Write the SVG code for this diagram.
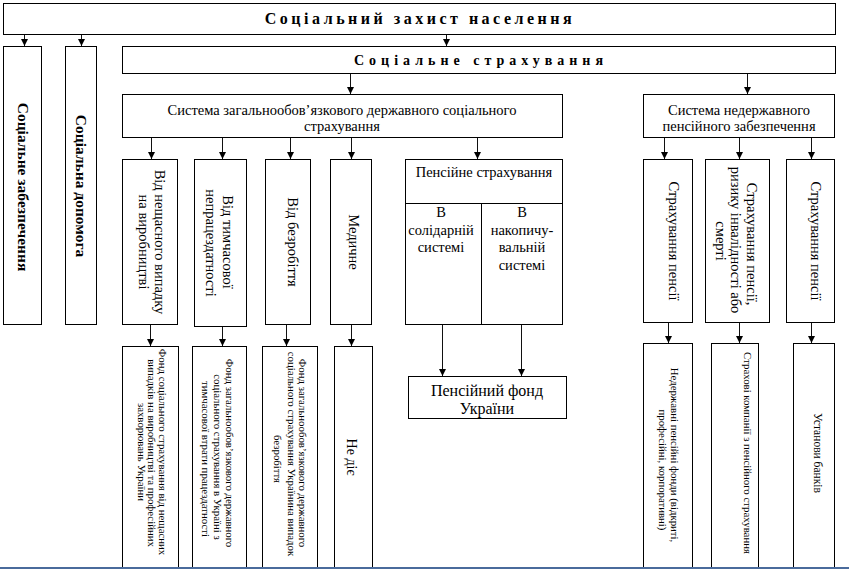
<svg xmlns="http://www.w3.org/2000/svg" width="849" height="569" viewBox="0 0 849 569" font-family="'Liberation Serif', 'Times New Roman', serif">
<style>
.box{fill:#fff;stroke:#000;stroke-width:1}
.div{stroke:#000;stroke-width:1;fill:none}
text{font-family:'Liberation Serif','Times New Roman',serif;fill:#000}
.b{font-weight:bold}
.m{text-anchor:middle}
.f15{font-size:14.5px}
.f11{font-size:10.8px}
.con line{stroke:#111;stroke-width:1;marker-end:url(#arr)}
</style>
<defs>
<marker id="arr" markerWidth="8" markerHeight="8" refX="7" refY="4" orient="auto" markerUnits="userSpaceOnUse">
<path d="M0,0.5 L7,4 L0,7.5 Z" fill="#000"/>
</marker>
</defs>
<rect width="849" height="569" fill="#fff"/>

<g id="n_top">
<rect class="box" x="3.5" y="3.5" width="832" height="31"/>
<text class="b m" x="420" y="24" font-size="16" letter-spacing="3.5">Соціальний захист населення</text>
</g>

<g id="n_soc_zab">
<rect class="box" x="3.5" y="46.5" width="38" height="278"/>
<text class="b m" font-size="15.5" transform="translate(18,187) rotate(90)">Соціальне забезпечення</text>
</g>

<g id="n_soc_dop">
<rect class="box" x="65.5" y="46.5" width="31" height="278"/>
<text class="b m" font-size="15.5" transform="translate(76,186) rotate(90)">Соціальна допомога</text>
</g>

<g id="n_soc_strah">
<rect class="box" x="122.5" y="46.5" width="713" height="27"/>
<text class="b m" x="481" y="65" font-size="14" letter-spacing="5">Соціальне страхування</text>
</g>

<g id="n_sys_zag">
<rect class="box" x="122.5" y="94.5" width="440" height="43"/>
<text class="m f15" x="342" y="115">Система загальнообов’язкового державного соціального</text>
<text class="m f15" x="342" y="131">страхування</text>
</g>

<g id="n_sys_nedz">
<rect class="box" x="643.5" y="94.5" width="191" height="43"/>
<text class="m f15" x="739" y="115">Система недержавного</text>
<text class="m f15" x="739" y="131">пенсійного забезпечення</text>
</g>

<g id="n_vid_neshch">
<rect class="box" x="122.5" y="159.5" width="55" height="165"/>
<text class="m f15" transform="translate(155,242) rotate(90)">Від нещасного випадку</text>
<text class="m f15" transform="translate(139,242) rotate(90)">на виробництві</text>
</g>

<g id="n_vid_tym">
<rect class="box" x="194.5" y="159.5" width="52" height="167"/>
<text class="m f15" transform="translate(223,242) rotate(90)">Від тимчасової</text>
<text class="m f15" transform="translate(206,243) rotate(90)">непрацездатності</text>
</g>

<g id="n_vid_bezr">
<rect class="box" x="265.5" y="159.5" width="45" height="165"/>
<text class="m f15" transform="translate(288,242) rotate(90)">Від безробіття</text>
</g>

<g id="n_med">
<rect class="box" x="330.5" y="159.5" width="41" height="165"/>
<text class="m f15" transform="translate(349,242) rotate(90)">Медичне</text>
</g>

<g id="n_pension">
<rect class="box" x="405.5" y="159.5" width="157" height="165"/>
<line class="div" x1="405.5" y1="203.5" x2="562.5" y2="203.5"/>
<line class="div" x1="481.5" y1="203.5" x2="481.5" y2="324.5"/>
<text class="m f15" x="484" y="177">Пенсійне страхування</text>
<text class="m f15" x="441" y="217">В</text>
<text class="m f15" x="441" y="234.5">солідарній</text>
<text class="m f15" x="441" y="252">системі</text>
<text class="m f15" x="522" y="217">В</text>
<text class="m f15" x="522" y="234.5">накопичу-</text>
<text class="m f15" x="522" y="252">вальній</text>
<text class="m f15" x="522" y="269.5">системі</text>
</g>

<g id="n_str1">
<rect class="box" x="643.5" y="159.5" width="49" height="163"/>
<text class="m f15" transform="translate(669,241) rotate(90)">Страхування пенсії</text>
</g>

<g id="n_str2">
<rect class="box" x="705.5" y="159.5" width="64" height="163"/>
<text class="m f15" transform="translate(747,244) rotate(90)">Страхування пенсії,</text>
<text class="m f15" transform="translate(731,240) rotate(90)">ризику інвалідності або</text>
<text class="m f15" transform="translate(716,241) rotate(90)">смерті</text>
</g>

<g id="n_str3">
<rect class="box" x="786.5" y="159.5" width="48" height="163"/>
<text class="m f15" transform="translate(811,241) rotate(90)">Страхування пенсії</text>
</g>

<g id="n_fund1">
<rect class="box" x="122.5" y="346.5" width="56" height="221"/>
<text class="m f11" transform="translate(159,452) rotate(90)">Фонд соціального страхування від нещасних</text>
<text class="m f11" transform="translate(148,453) rotate(90)">випадків на виробництві та професійних</text>
<text class="m f11" transform="translate(137.5,452) rotate(90)">захворювань України</text>
</g>

<g id="n_fund2">
<rect class="box" x="192.5" y="346.5" width="54" height="221"/>
<text class="m f11" transform="translate(226,453) rotate(90)">Фонд загальнообов’язкового державного</text>
<text class="m f11" transform="translate(214,457) rotate(90)">соціального страхування  в Україні з</text>
<text class="m f11" transform="translate(201.5,459) rotate(90)">тимчасової втрати працездатності</text>
</g>

<g id="n_fund3">
<rect class="box" x="262.5" y="346.5" width="55" height="221"/>
<text class="m f11" transform="translate(299,453) rotate(90)">Фонд загальнообов’язкового державного</text>
<text class="m f11" transform="translate(287.5,454) rotate(90)">соціального страхування Українина випадок</text>
<text class="m f11" transform="translate(274,459) rotate(90)">безробіття</text>
</g>

<g id="n_nedie">
<rect class="box" x="334.5" y="346.5" width="38" height="221"/>
<text class="m" font-size="14" transform="translate(347,457) rotate(90)">Не діє</text>
</g>

<g id="n_pfu">
<rect class="box" x="408.5" y="376.5" width="158" height="42"/>
<text class="m" font-size="16" x="487" y="396">Пенсійний фонд</text>
<text class="m" font-size="16" x="487" y="414">України</text>
</g>

<g id="n_rf1">
<rect class="box" x="643.5" y="343.5" width="49" height="224"/>
<text class="m f11" transform="translate(671,455) rotate(90)">Недержавні пенсійні фонди (відкриті,</text>
<text class="m f11" transform="translate(659,470) rotate(90)">професійні, корпоративні)</text>
</g>

<g id="n_rf2">
<rect class="box" x="711.5" y="343.5" width="47" height="224"/>
<text class="m f11" transform="translate(744,453) rotate(90)">Страхові компанії з пенсійного страхування</text>
</g>

<g id="n_rf3">
<rect class="box" x="793.5" y="343.5" width="41" height="224"/>
<text class="m" font-size="11.5" transform="translate(814,453) rotate(90)">Установи банків</text>
</g>

<g id="connectors" class="con">
<line x1="24.5" y1="35" x2="24.5" y2="46"/>
<line x1="81.5" y1="35" x2="81.5" y2="46"/>
<line x1="446.5" y1="35" x2="446.5" y2="46"/>
<line x1="350.5" y1="74" x2="350.5" y2="94"/>
<line x1="747.5" y1="74" x2="747.5" y2="94"/>
<line x1="151.5" y1="138" x2="151.5" y2="159"/>
<line x1="222.5" y1="138" x2="222.5" y2="159"/>
<line x1="290.5" y1="138" x2="290.5" y2="159"/>
<line x1="351.5" y1="138" x2="351.5" y2="159"/>
<line x1="477.5" y1="138" x2="477.5" y2="159"/>
<line x1="664.5" y1="138" x2="664.5" y2="159"/>
<line x1="739.5" y1="138" x2="739.5" y2="159"/>
<line x1="811.5" y1="138" x2="811.5" y2="159"/>
<line x1="150.5" y1="325" x2="150.5" y2="346"/>
<line x1="222.5" y1="327" x2="222.5" y2="346"/>
<line x1="286.5" y1="325" x2="286.5" y2="346"/>
<line x1="351.5" y1="325" x2="351.5" y2="346"/>
<line x1="442.5" y1="325" x2="442.5" y2="376"/>
<line x1="521.5" y1="325" x2="521.5" y2="376"/>
<line x1="668.5" y1="323" x2="668.5" y2="343"/>
<line x1="739.5" y1="323" x2="739.5" y2="343"/>
<line x1="811.5" y1="323" x2="811.5" y2="343"/>
</g>

<line x1="0" y1="568" x2="849" y2="568" stroke="#4a6b9c" stroke-width="2"/>
</svg>
